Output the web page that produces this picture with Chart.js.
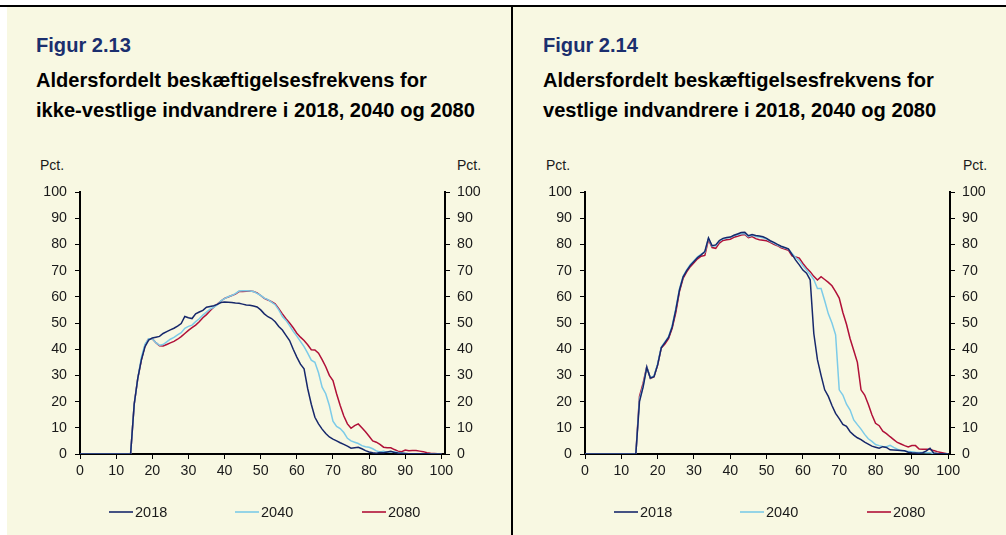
<!DOCTYPE html>
<html>
<head>
<meta charset="utf-8">
<script src="https://cdn.jsdelivr.net/npm/chart.js@4.4.1/dist/chart.umd.min.js"></script>
<style>
  html, body { margin: 0; padding: 0; background: #ffffff; }
  body { width: 1006px; height: 535px; position: relative; overflow: hidden; font-family: "Liberation Sans", Arial, sans-serif; }
  .bg { position: absolute; left: 7px; top: 6px; width: 999px; height: 529px; background: #f8f8e2; }
  .topline { position: absolute; left: 0; top: 5px; width: 1006px; height: 2px; background: #000; }
  .divider { position: absolute; left: 511px; top: 6px; width: 2px; height: 529px; background: #000; }
  .t { position: absolute; font-weight: bold; font-size: 20.1px; line-height: 24px; color: #000; white-space: nowrap; }
  .fig { color: #1b2f6e; }
  .pct { position: absolute; font-size: 14px; line-height: 16px; color: #1a1a1a; }
  canvas { position: absolute; }
</style>
</head>
<body>
<div class="bg"></div>
<div class="topline"></div>
<div class="divider"></div>

<div class="t fig" style="left:36px; top:33px;">Figur 2.13</div>
<div class="t" style="left:36px; top:68px;">Aldersfordelt beskæftigelsesfrekvens for</div>
<div class="t" style="left:36px; top:98px;">ikke-vestlige indvandrere i 2018, 2040 og 2080</div>
<div class="pct" style="left:40px; top:157px;">Pct.</div>
<div class="pct" style="left:457px; top:157px;">Pct.</div>

<div class="t fig" style="left:543px; top:33px;">Figur 2.14</div>
<div class="t" style="left:543px; top:68px;">Aldersfordelt beskæftigelsesfrekvens for</div>
<div class="t" style="left:543px; top:98px;">vestlige indvandrere i 2018, 2040 og 2080</div>
<div class="pct" style="left:546px; top:157px;">Pct.</div>
<div class="pct" style="left:963px; top:157px;">Pct.</div>

<canvas id="c1" width="504" height="385" style="left:7px; top:150px; width:504px; height:385px;"></canvas>
<canvas id="c2" width="493" height="385" style="left:513px; top:150px; width:493px; height:385px;"></canvas>

<script>
// Ages (categories) 0..100
const ages = Array.from({length: 101}, (_, i) => i);
const seriesNames = ['2018', '2040', '2080'];
const yTicks = [0, 10, 20, 30, 40, 50, 60, 70, 80, 90, 100];
const xTicks = [0, 10, 20, 30, 40, 50, 60, 70, 80, 90, 100];

// Figur 2.13 — ikke-vestlige indvandrere
const nonWestern2018 = [
  0,0,0,0,0,0,0,0,0,0, 0,0,0,0,0,
  19,29,36,41,43.5, 44.3,44.6,44.9,46,46.7, 47.4,48,48.8,49.8,52.5,
  52,51.7,53.5,54.2,54.8, 56,56.3,56.6,57.1,57.8, 58,57.9,57.8,57.6,57.5,
  57.2,56.9,56.8,56.5,56.1, 55,53.5,52.4,51.7,50.5, 48.7,47.3,45.3,43.3,40,
  37,34.3,32.5,25,19, 14,11.5,9.5,7.8,6.5, 5.7,5,4.3,3.7,3,
  2.2,2.4,2.6,2,1.3, 0.8,0.5,0.3,0.6,0.5, 0.8,1,0.6,0.4,0.3,
  0.2,0.1,0.1,0.1,0.1, 0.1,0.1,0,0,0, 0
];
const nonWestern2040 = [
  0,0,0,0,0,0,0,0,0,0, 0,0,0,0,0,
  19,29,37,42,44, 44,42.5,41.5,41.8,42.8, 43.8,44.5,45.5,46.3,48,
  48.7,49.2,50.5,51.6,53, 54.2,55.3,56,57,58.5, 59.3,60,60.5,61.2,62.2,
  62.3,62.3,62.2,62,61.3, 60.5,59.5,58.9,58,57, 55,52.5,51,49,46.8,
  45,43,41,38.5,35.8, 35,31,25.5,23,18.5, 12.5,10.5,9.7,8.2,6,
  5,4.5,4,3.2,2.8, 2.6,2,1.2,0.8,1, 0.7,0.8,0.9,0.6,0.4,
  0.2,0.1,0.1,0.1,0.1, 0.1,0,0,0,0, 0
];
const nonWestern2080 = [
  0,0,0,0,0,0,0,0,0,0, 0,0,0,0,0,
  19,29,36,41.5,44, 44,42.5,41.3,41.2,41.8, 42.4,43,43.8,44.8,46,
  47.2,48.2,49.2,50.5,52, 53.2,54.7,56,57.2,58.4, 59.4,59.9,60.5,61,62,
  62,62.1,62.2,62,61.5, 60.5,59.4,58.8,58.1,57.3, 55.5,53.5,51.6,50,48.2,
  46.1,44.6,43.3,41.7,39.8, 39.7,38.5,36,33.3,30, 28,23,18.5,14.5,11.5,
  9.8,10.8,11.5,10,8.5, 6.8,5,4.5,3.7,2.6, 2.4,2.4,1.7,1.1,0.9,
  1.5,1.2,1.3,1.3,1.1, 0.9,0.5,0.3,0.2,0.1, 0
];

// Figur 2.14 — vestlige indvandrere
const western2018 = [
  0,0,0,0,0,0,0,0,0,0, 0,0,0,0,0,
  20,25.5,33,29,29.5, 34,40.5,42.5,44.5,48.5, 55,62.5,67.5,70,72,
  73.5,75,76,77.3,82.5, 79.5,79.8,81.5,82.3,82.6, 82.8,83.5,84,84.5,84.6,
  83.3,83.8,83.4,83.2,82.9, 82.3,81.4,80.8,80,79.3, 78.8,78.3,76.2,74,72.2,
  70.2,69,66.5,46,36, 30,24.5,22,18.5,15.5, 13.5,11.3,10.6,8.5,7.2,
  6.2,5.5,4.5,3.8,3, 2.6,2.2,2.8,2.5,1.6, 1.5,1.4,1.3,1.2,0.7,
  0.5,0.4,0.3,0.5,1.2, 2.2,0.4,0.2,0.1,0.1, 0
];
const western2040 = [
  0,0,0,0,0,0,0,0,0,0, 0,0,0,0,0,
  21,26,33.3,29,29.8, 34.5,40.8,42.8,44.8,49, 55.5,63,67.8,70.3,72.3,
  73.8,75.3,76.3,77,82.3, 79.3,79.5,81.3,82.1,82.4, 82.6,83.3,83.7,84.1,84.2,
  83,83.5,83,82.8,82.5, 82,81.2,80.5,79.7,79.1, 78.6,78.2,76.5,75,73.8,
  71.8,70.2,68.5,66.6,63.2, 63.2,58.5,53.5,50,45.5, 24.5,22.5,19,16.8,13,
  11.2,9.5,7.5,5.8,4.8, 3.6,3.2,2.9,2.8,3.3, 2.5,1.8,1.3,1.1,1,
  0.9,0.7,0.6,0.6,0.5, 0.5,0.2,0.1,0.1,0, 0
];
const western2080 = [
  0,0,0,0,0,0,0,0,0,0, 0,0,0,0,0,
  22,27,33.3,28.8,29.5, 34,40.5,42,44,48, 54,62,67,69.5,71.5,
  73,74.5,75.5,75.8,81.8, 78.8,78.5,80.5,81.5,81.8, 82,82.7,83.1,83.6,83.8,
  82.6,83,82.2,81.8,81.6, 81.4,80.8,80,79.5,78.7, 78.2,77.8,75.6,75.2,74.8,
  72.7,71,69.6,67.8,66.4, 67.7,66.6,65.5,64.2,62, 59.5,54,49.5,44,39.5,
  35,24.5,22.5,19,15, 11.7,10.8,8.7,7.8,6.6, 5.5,4.4,3.8,3.2,2.7,
  3.2,3.2,1.9,1.8,1.8, 1.8,1.3,0.9,0.6,0.3, 0
];

const colors = ['#17286b', '#7ccbe8', '#b01038'];
const FONT = '"Liberation Sans", Arial, sans-serif';
const TXT = '#1a1a1a';

const legendPlugin = {
  id: 'lineLegend',
  afterDraw(chart) {
    const ctx = chart.ctx;
    const a = chart.chartArea;
    const offs = [29, 155, 282];
    const y = a.bottom + 58;
    ctx.save();
    chart.data.datasets.forEach((ds, i) => {
      const x0 = a.left + offs[i];
      ctx.strokeStyle = ds.borderColor;
      ctx.lineWidth = 1.6;
      ctx.beginPath();
      ctx.moveTo(x0, y);
      ctx.lineTo(x0 + 24, y);
      ctx.stroke();
      ctx.fillStyle = TXT;
      ctx.font = '14.5px ' + FONT;
      ctx.textAlign = 'left';
      ctx.textBaseline = 'middle';
      ctx.fillText(ds.label, x0 + 26, y + 1);
    });
    ctx.restore();
  }
};

function makeChart(id, data, xMax, pad) {
  const datasets = data.map((vals, i) => ({
    label: seriesNames[i],
    data: ages.map((a, j) => ({x: a, y: vals[j]})),
    borderColor: colors[i],
    backgroundColor: colors[i],
    borderWidth: 1.5,
    pointRadius: 0,
    tension: 0,
    fill: false
  }));
  const yCommon = (pos, padding) => ({
    type: 'linear',
    position: pos,
    min: 0, max: 100,
    afterBuildTicks(s) { s.ticks = yTicks.map(v => ({value: v})); },
    afterFit(s) { s.width = 50; },
    border: { display: true, color: '#000', width: 2 },
    grid: { drawOnChartArea: false, drawTicks: true, tickLength: 5, color: '#000', lineWidth: 1 },
    ticks: { color: TXT, font: { family: FONT, size: 14.2 }, padding: padding }
  });
  return new Chart(document.getElementById(id), {
    type: 'line',
    data: { datasets },
    options: {
      responsive: false,
      animation: false,
      events: [],
      layout: { padding: pad },
      plugins: { legend: { display: false }, tooltip: { enabled: false } },
      scales: {
        x: {
          type: 'linear',
          min: 0, max: xMax,
          afterBuildTicks(s) { s.ticks = xTicks.map(v => ({value: v})); },
          afterFit(s) { s.height = 25; },
          border: { display: true, color: '#000', width: 2 },
          grid: { drawOnChartArea: false, drawTicks: true, tickLength: 5, color: '#000', lineWidth: 1 },
          ticks: { color: TXT, font: { family: FONT, size: 14.2 }, padding: 4, maxRotation: 0, autoSkip: false }
        },
        y: yCommon('left', 8),
        y2: yCommon('right', 7)
      }
    },
    plugins: [legendPlugin]
  });
}

makeChart('c1', [nonWestern2018, nonWestern2040, nonWestern2080], 101,
  { left: 23, right: 16, top: 42, bottom: 56 });
makeChart('c2', [western2018, western2040, western2080], 100.5,
  { left: 22, right: 6, top: 42, bottom: 56 });
</script>
</body>
</html>
